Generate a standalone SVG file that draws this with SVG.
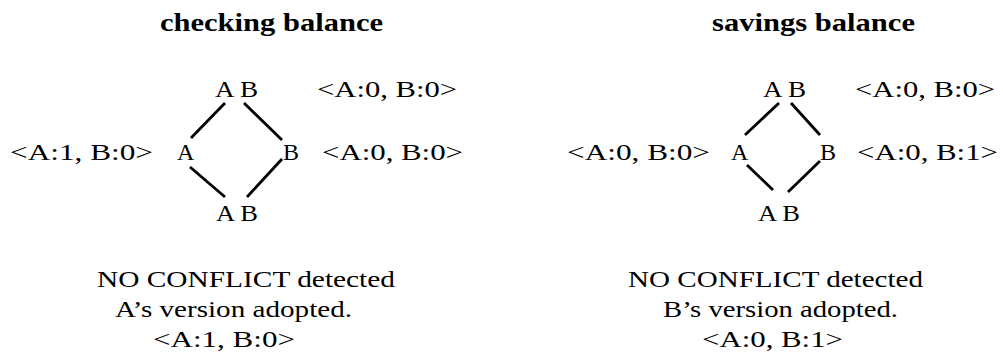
<svg xmlns="http://www.w3.org/2000/svg" width="1003" height="355" viewBox="0 0 1003 355">
<style>
text{font-family:"Liberation Serif","Times New Roman",serif;font-size:24px;fill:#000}
.title{font-weight:bold;font-size:25px}
.edge{stroke:#000;stroke-width:2.8;stroke-linecap:butt;fill:none}
</style>
<rect width="1003" height="355" fill="#fff"/>
<!-- Left panel: checking balance -->
<g id="checking-title"><text class="title" x="160" y="31" textLength="223" lengthAdjust="spacingAndGlyphs">checking balance</text></g>
<g id="c-top"><text x="215" y="97" textLength="43" lengthAdjust="spacingAndGlyphs">A B</text><text x="317" y="97" textLength="140" lengthAdjust="spacingAndGlyphs">&lt;A:0, B:0&gt;</text></g>
<g id="c-A"><text x="10" y="160" textLength="143" lengthAdjust="spacingAndGlyphs">&lt;A:1, B:0&gt;</text><text x="177" y="160">A</text></g>
<g id="c-B"><text x="283" y="160">B</text><text x="322" y="160" textLength="141" lengthAdjust="spacingAndGlyphs">&lt;A:0, B:0&gt;</text></g>
<g id="c-bottom"><text x="216" y="221" textLength="42" lengthAdjust="spacingAndGlyphs">A B</text></g>
<g id="c-result">
<text x="97" y="287" textLength="298" lengthAdjust="spacingAndGlyphs">NO CONFLICT detected</text>
<text x="115" y="317" textLength="237" lengthAdjust="spacingAndGlyphs">A’s version adopted.</text>
<text x="153" y="347" textLength="142" lengthAdjust="spacingAndGlyphs">&lt;A:1, B:0&gt;</text>
</g>
<!-- Right panel: savings balance -->
<g id="savings-title"><text class="title" x="712" y="31" textLength="203" lengthAdjust="spacingAndGlyphs">savings balance</text></g>
<g id="s-top"><text x="763" y="97" textLength="43" lengthAdjust="spacingAndGlyphs">A B</text><text x="855" y="97" textLength="140" lengthAdjust="spacingAndGlyphs">&lt;A:0, B:0&gt;</text></g>
<g id="s-A"><text x="567" y="160" textLength="143" lengthAdjust="spacingAndGlyphs">&lt;A:0, B:0&gt;</text><text x="731" y="160">A</text></g>
<g id="s-B"><text x="820" y="160">B</text><text x="857" y="160" textLength="141" lengthAdjust="spacingAndGlyphs">&lt;A:0, B:1&gt;</text></g>
<g id="s-bottom"><text x="758" y="221" textLength="42" lengthAdjust="spacingAndGlyphs">A B</text></g>
<g id="s-result">
<text x="628" y="287" textLength="295" lengthAdjust="spacingAndGlyphs">NO CONFLICT detected</text>
<text x="663" y="317" textLength="235" lengthAdjust="spacingAndGlyphs">B’s version adopted.</text>
<text x="702" y="347" textLength="141" lengthAdjust="spacingAndGlyphs">&lt;A:0, B:1&gt;</text>
</g>
<g id="connectors">
<line class="edge" x1="225" y1="103" x2="191" y2="138"/>
<line class="edge" x1="244" y1="103" x2="282" y2="140"/>
<line class="edge" x1="190" y1="167" x2="225" y2="197"/>
<line class="edge" x1="282" y1="159" x2="247" y2="197"/>
<line class="edge" x1="779" y1="103" x2="745" y2="135"/>
<line class="edge" x1="791" y1="103" x2="820" y2="135"/>
<line class="edge" x1="747" y1="165" x2="773" y2="190"/>
<line class="edge" x1="820" y1="161" x2="788" y2="192"/>
</g>
</svg>
